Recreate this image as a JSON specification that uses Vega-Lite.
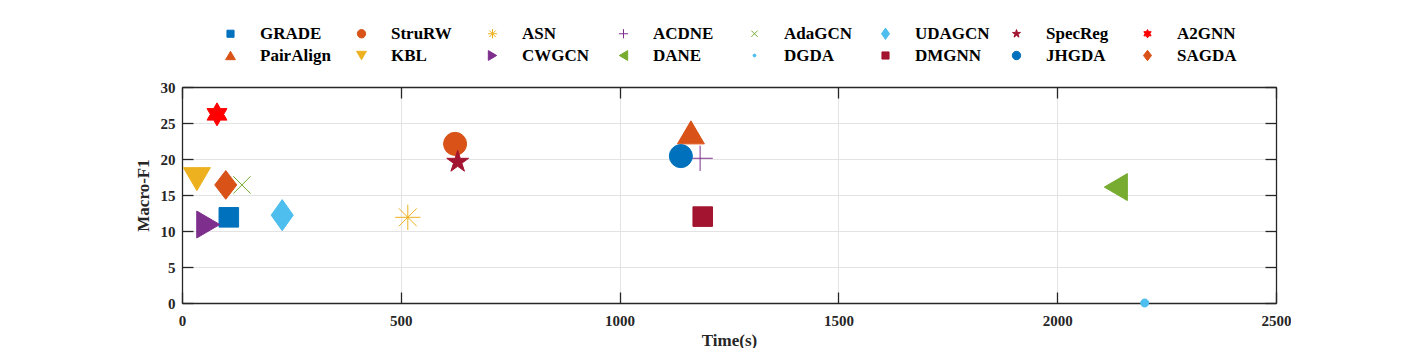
{
  "$schema": "https://vega.github.io/schema/vega-lite/v6.json",
  "width": 1094,
  "height": 216,
  "padding": {"left": 134, "top": 25, "right": 0, "bottom": 0},
  "background": "white",
  "config": {
    "font": "Liberation Serif",
    "view": {"stroke": null},
    "legend": {
      "orient": "top",
      "layout": {"top": {"anchor": "middle"}},
      "direction": "horizontal",
      "columns": 8,
      "gridAlign": "all",
      "symbolSize": 70,
      "symbolStrokeWidth": 1,
      "labelFont": "Liberation Serif",
      "labelFontSize": 17,
      "labelFontWeight": "bold",
      "labelColor": "black",
      "labelOffset": 21,
      "columnPadding": 18,
      "rowPadding": 4,
      "padding": 0,
      "offset": 22,
      "titleOrient": "left"
    },
    "axis": {
      "domainColor": "#262626",
      "domainWidth": 1.3,
      "tickColor": "#262626",
      "tickWidth": 1.3,
      "tickSize": -11,
      "gridColor": "#e3e3e3",
      "gridWidth": 1,
      "labelFlush": false,
      "labelFont": "Liberation Serif",
      "labelFontSize": 15,
      "labelFontWeight": "bold",
      "labelColor": "#262626",
      "titleFont": "Liberation Serif",
      "titleFontSize": 17,
      "titleFontWeight": "bold",
      "titleColor": "#262626",
      "format": "d"
    }
  },
  "data": {
    "values": [
      {"method": "GRADE", "time": 107, "f1": 11.9},
      {"method": "StruRW", "time": 624, "f1": 22.1},
      {"method": "ASN", "time": 516, "f1": 11.9},
      {"method": "ACDNE", "time": 1184, "f1": 20.1},
      {"method": "AdaGCN", "time": 137, "f1": 16.4},
      {"method": "UDAGCN", "time": 229, "f1": 12.2},
      {"method": "SpecReg", "time": 630, "f1": 19.6},
      {"method": "A2GNN", "time": 80, "f1": 26.2},
      {"method": "PairAlign", "time": 1163, "f1": 23.7},
      {"method": "KBL", "time": 34, "f1": 17.2},
      {"method": "CWGCN", "time": 60, "f1": 10.9},
      {"method": "DANE", "time": 2134, "f1": 16.1},
      {"method": "DGDA", "time": 2200, "f1": 0},
      {"method": "DMGNN", "time": 1190, "f1": 12.0},
      {"method": "JHGDA", "time": 1140, "f1": 20.4},
      {"method": "SAGDA", "time": 100, "f1": 16.4}
    ]
  },
  "resolve": {"axis": {"x": "independent", "y": "independent"}},
  "layer": [
    {
      "mark": {"type": "point", "size": 530, "strokeWidth": 1, "opacity": 1},
      "encoding": {
        "x": {
          "field": "time", "type": "quantitative",
          "scale": {"domain": [0, 2500], "nice": false},
          "axis": {"orient": "bottom", "values": [0, 500, 1000, 1500, 2000, 2500], "title": "Time(s)", "grid": true, "labelPadding": 21, "titlePadding": 4}
        },
        "y": {
          "field": "f1", "type": "quantitative",
          "scale": {"domain": [0, 30], "nice": false},
          "axis": {"orient": "left", "values": [0, 5, 10, 15, 20, 25, 30], "title": "Macro-F1", "grid": true, "labelPadding": 18, "titlePadding": 8}
        },
        "shape": {
          "field": "method", "type": "nominal",
          "scale": {
            "domain": ["GRADE", "StruRW", "ASN", "ACDNE", "AdaGCN", "UDAGCN", "SpecReg", "A2GNN", "PairAlign", "KBL", "CWGCN", "DANE", "DGDA", "DMGNN", "JHGDA", "SAGDA"],
            "range": [
              "M-0.85,-0.85L0.85,-0.85L0.85,0.85L-0.85,0.85Z",
              "circle",
              "M-1.1,0L1.1,0M0,-1.1L0,1.1M-0.78,-0.78L0.78,0.78M-0.78,0.78L0.78,-0.78",
              "M-1.1,0L1.1,0M0,-1.1L0,1.1",
              "M-0.75,-0.75L0.75,0.75M-0.75,0.75L0.75,-0.75",
              "M0,-1.35L0.96,0L0,1.35L-0.96,0Z",
              "M0,-1L0.225,-0.309L0.951,-0.309L0.363,0.118L0.588,0.809L0,0.382L-0.588,0.809L-0.363,0.118L-0.951,-0.309L-0.225,-0.309Z",
              "M0,-1L0.289,-0.5L0.866,-0.5L0.577,0L0.866,0.5L0.289,0.5L0,1L-0.289,0.5L-0.866,0.5L-0.577,0L-0.866,-0.5L-0.289,-0.5Z",
              "M0,-1L1.17,1L-1.17,1Z",
              "M0,1L1.17,-1L-1.17,-1Z",
              "M1,0L-1,-1.17L-1,1.17Z",
              "M-1,0L1,-1.17L1,1.17Z",
              "M-0.35,0A0.35,0.35,0,1,1,0.35,0A0.35,0.35,0,1,1,-0.35,0Z",
              "M-0.85,-0.85L0.85,-0.85L0.85,0.85L-0.85,0.85Z",
              "circle",
              "M0,-1.25L0.96,0L0,1.25L-0.96,0Z"
            ]
          },
          "legend": {"title": null}
        },
        "fill": {
          "field": "method", "type": "nominal",
          "scale": {
            "domain": ["GRADE", "StruRW", "ASN", "ACDNE", "AdaGCN", "UDAGCN", "SpecReg", "A2GNN", "PairAlign", "KBL", "CWGCN", "DANE", "DGDA", "DMGNN", "JHGDA", "SAGDA"],
            "range": ["#0072BD", "#D95319", "transparent", "transparent", "transparent", "#4DBEEE", "#A2142F", "#FF0000", "#D95319", "#EDB120", "#7E2F8E", "#77AC30", "#4DBEEE", "#A2142F", "#0072BD", "#D95319"]
          },
          "legend": {"title": null}
        },
        "stroke": {
          "field": "method", "type": "nominal",
          "scale": {
            "domain": ["GRADE", "StruRW", "ASN", "ACDNE", "AdaGCN", "UDAGCN", "SpecReg", "A2GNN", "PairAlign", "KBL", "CWGCN", "DANE", "DGDA", "DMGNN", "JHGDA", "SAGDA"],
            "range": ["#0072BD", "#D95319", "#EDB120", "#7E2F8E", "#77AC30", "#4DBEEE", "#A2142F", "#FF0000", "#D95319", "#EDB120", "#7E2F8E", "#77AC30", "#4DBEEE", "#A2142F", "#0072BD", "#D95319"]
          },
          "legend": {"title": null}
        }
      }
    },
    {
      "mark": {"type": "point", "opacity": 0},
      "encoding": {
        "x": {
          "field": "time", "type": "quantitative",
          "axis": {"orient": "top", "values": [0, 500, 1000, 1500, 2000, 2500], "title": null, "labels": false, "grid": false}
        },
        "y": {
          "field": "f1", "type": "quantitative",
          "axis": {"orient": "right", "values": [0, 5, 10, 15, 20, 25, 30], "title": null, "labels": false, "grid": false}
        }
      }
    }
  ]
}
